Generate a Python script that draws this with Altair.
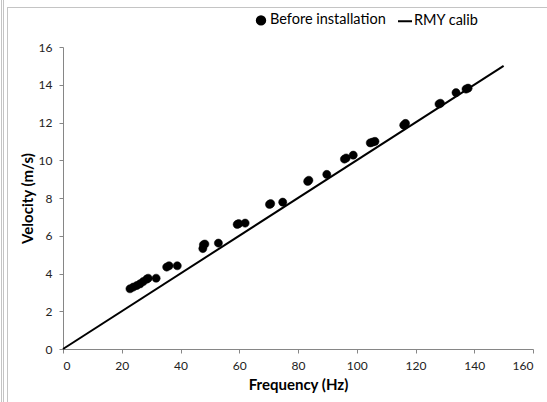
import altair as alt
import pandas as pd

freq = [22.8, 23.9, 25.1, 26.2, 27.3, 28.5, 29.0, 31.7,
        35.3, 36.1, 38.9,
        47.6, 47.8, 48.3, 52.9,
        59.3, 59.8, 62.0,
        70.3, 70.7, 74.8,
        83.3, 83.7, 89.8,
        95.8, 96.4, 98.8,
        104.6, 105.4, 106.2,
        116.0, 116.6,
        128.0, 128.5,
        133.8,
        137.2, 137.9]
vel = [3.19, 3.28, 3.36, 3.45, 3.57, 3.70, 3.75, 3.75,
       4.34, 4.41, 4.41,
       5.32, 5.52, 5.56, 5.61,
       6.60, 6.64, 6.67,
       7.66, 7.70, 7.78,
       8.88, 8.94, 9.25,
       10.06, 10.12, 10.27,
       10.92, 10.96, 11.00,
       11.86, 11.95,
       12.98, 13.02,
       13.58,
       13.77, 13.82]

calib_freq = [0, 150]
calib_vel = [0, 15]

series = ["Before installation", "RMY calib"]

pts = pd.DataFrame({"freq": freq, "vel": vel, "series": series[0]})
cal = pd.DataFrame({"freq": calib_freq, "vel": calib_vel, "series": series[1]})

FONT = "Lato"
AX = "#868686"
FRAME = "#c4c4c4"

CIRCLE = "M-0.6,0A0.6,0.6,0,1,1,0.6,0A0.6,0.6,0,1,1,-0.6,0Z"
STROKE = "M-1,0L1,0"

xenc = alt.X("freq:Q", scale=alt.Scale(domain=[0, 160], nice=False),
             axis=alt.Axis(values=list(range(0, 161, 20)), title="Frequency (Hz)"))
yenc = alt.Y("vel:Q", scale=alt.Scale(domain=[0, 16], nice=False),
             axis=alt.Axis(values=list(range(0, 17, 2)), title="Velocity (m/s)"))

points = alt.Chart(pts).mark_point(filled=False, fill="black", stroke="black",
                                   strokeWidth=0.5, opacity=1, size=185).encode(
    x=xenc, y=yenc,
    shape=alt.Shape("series:N",
                    scale=alt.Scale(domain=series, range=[CIRCLE, STROKE]),
                    legend=alt.Legend(title=None, orient="none", direction="horizontal",
                                      legendX=190, legendY=-35,
                                      labelFont=FONT, labelFontSize=14.5, labelColor="#000000",
                                      symbolStrokeWidth=2, symbolSize=196,
                                      columnPadding=8, labelOffset=1)),
)

line = alt.Chart(cal).mark_line(color="black", strokeWidth=2).encode(x=xenc, y=yenc)

fdf = pd.DataFrame({"k": [0]})


def bar(x1, x2, y1, y2):
    return alt.Chart(fdf).mark_rect(fill=FRAME, stroke=None).encode(
        x=alt.value(x1), x2=alt.value(x2), y=alt.value(y1), y2=alt.value(y2))


frame_left = bar(-56, -55, -40, 355)
frame_top = bar(-56, 484, -40, -39)
edge_a = bar(-62, -61, -47, 355)
edge_b = bar(-60, -59, -47, 355)

chart = alt.layer(frame_left, frame_top, edge_a, edge_b, line, points).properties(
    width=470, height=302,
    padding={"left": 63, "top": 47, "right": 14, "bottom": 53},
    autosize=alt.AutoSizeParams(type="none"),
    background="white",
).configure_view(stroke=None).configure_axis(
    grid=False,
    domainColor=AX, tickColor=AX, domainWidth=1, tickSize=4,
    labelFont=FONT, labelFontSize=12, labelColor="#222222", labelPadding=7,
    titleFont=FONT, titleFontSize=15, titleFontWeight="bold", titleColor="#000000",
).configure_axisX(titlePadding=6).configure_axisY(titlePadding=3)

chart.save("out.html", embed_options={"renderer": "svg", "actions": False})
